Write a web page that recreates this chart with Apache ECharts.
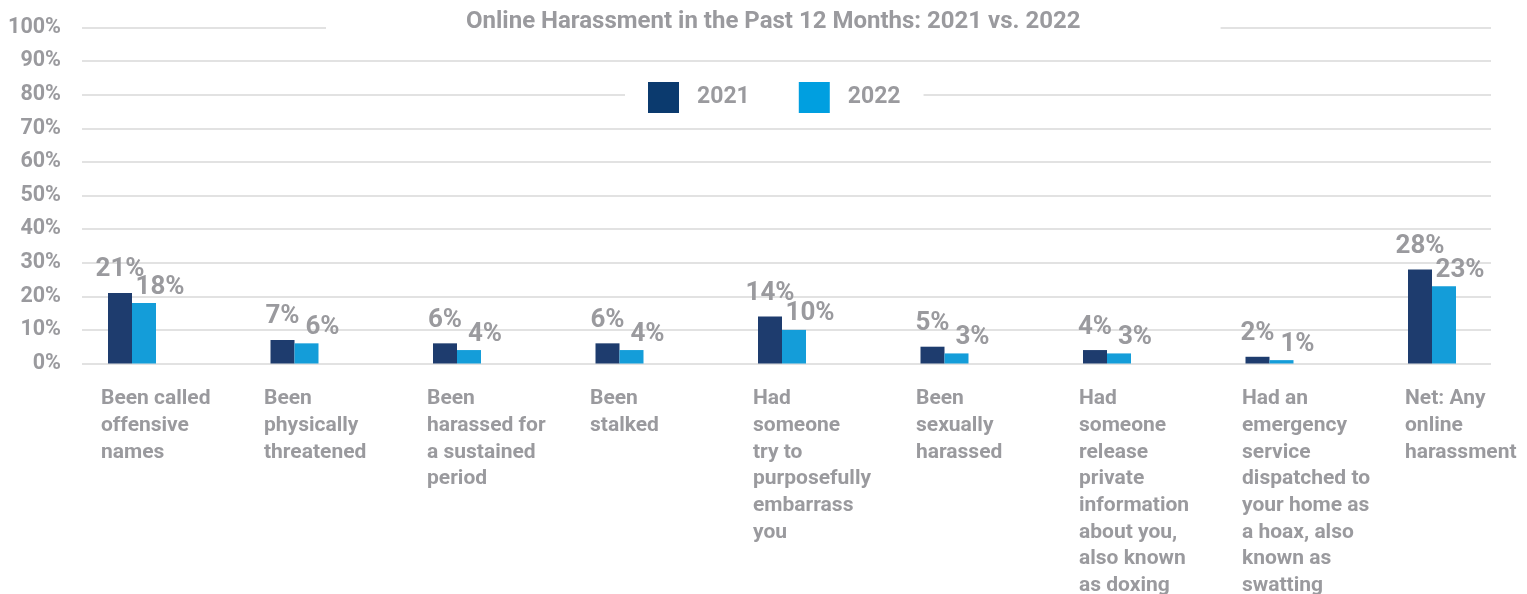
<!DOCTYPE html>
<html>
<head>
<meta charset="utf-8">
<script src="https://cdn.jsdelivr.net/npm/echarts@6/dist/echarts.min.js"></script>
<style>
html,body{margin:0;padding:0;background:#fff;}
#chart{width:1527px;height:594px;}
</style>
</head>
<body>
<div id="chart"></div>
<script>
const titleText = 'Online Harassment in the Past 12 Months: 2021 vs. 2022';
const seriesNames = ['2021', '2022'];
const categories = [
  'Been called\noffensive\nnames',
  'Been\nphysically\nthreatened',
  'Been\nharassed for\na sustained\nperiod',
  'Been\nstalked',
  'Had\nsomeone\ntry to\npurposefully\nembarrass\nyou',
  'Been\nsexually\nharassed',
  'Had\nsomeone\nrelease\nprivate\ninformation\nabout you,\nalso known\nas doxing',
  'Had an\nemergency\nservice\ndispatched to\nyour home as\na hoax, also\nknown as\nswatting',
  'Net: Any\nonline\nharassment'
];
const values2021 = [21, 7, 6, 6, 14, 5, 4, 2, 28];
const values2022 = [18, 6, 4, 4, 10, 3, 3, 1, 23];
const yMin = 0, yMax = 100, yStep = 10;

const GRAY = '#9a9a9e';
const FONT = 'Roboto';
const C2021 = '#1e3c6e';
const C2022 = '#149dd9';

const chart = echarts.init(document.getElementById('chart'), null, {renderer: 'canvas'});
const gTop = 27.5, gBottom = 230.5;
chart.setOption({
  animation: false,
  backgroundColor: '#fff',
  title: {
    text: titleText,
    left: 326,
    top: 4,
    padding: [6, 140, 6, 140],
    backgroundColor: '#fff',
    textStyle: {color: GRAY, fontFamily: FONT, fontWeight: 'bold', fontSize: 24}
  },
  legend: {
    left: 625,
    top: 78,
    padding: [4, 23, 4, 23],
    backgroundColor: '#fff',
    itemWidth: 31,
    itemHeight: 31,
    itemGap: 49,
    icon: 'rect',
    data: [
      {name: seriesNames[0], itemStyle: {color: '#0b3a6e'}},
      {name: seriesNames[1], itemStyle: {color: '#009fe0'}}
    ],
    textStyle: {color: GRAY, fontFamily: FONT, fontWeight: 'bold', fontSize: 23, padding: [0, 0, 0, 13]}
  },
  grid: [
    {left: 82, right: 36, top: gTop, bottom: gBottom, outerBoundsMode: 'none'},
    {left: 50.75, right: 13.75, top: gTop, bottom: gBottom, outerBoundsMode: 'none'},
    {left: 19.5, right: 40.5, top: gTop, bottom: gBottom, outerBoundsMode: 'none'}
  ],
  xAxis: [
    {gridIndex: 0, type: 'category', data: categories, show: false},
    {gridIndex: 1, type: 'category', data: categories, show: false},
    {gridIndex: 2, type: 'category', data: categories,
     axisLine: {show: false}, axisTick: {show: false}, splitLine: {show: false},
     axisLabel: {interval: 0, align: 'left', verticalAlign: 'top', margin: 22,
       color: GRAY, fontFamily: FONT, fontWeight: 'bold', fontSize: 21, lineHeight: 26.7}}
  ],
  yAxis: [
    {gridIndex: 0, type: 'value', min: yMin, max: yMax, interval: yStep,
     axisLine: {show: false}, axisTick: {show: false},
     splitLine: {show: true, lineStyle: {color: '#e2e2e2', width: 2}},
     axisLabel: {formatter: '{value}%', margin: 21, color: GRAY, fontFamily: FONT, fontWeight: 'bold', fontSize: 21.5}},
    {gridIndex: 1, type: 'value', min: yMin, max: yMax, show: false, splitLine: {show: false}},
    {gridIndex: 2, type: 'value', min: yMin, max: yMax, show: false, splitLine: {show: false}}
  ],
  series: [
    {name: seriesNames[0], type: 'bar', xAxisIndex: 1, yAxisIndex: 1, data: values2021,
     barWidth: 24, barGap: '0%', itemStyle: {color: C2021},
     label: {show: true, position: 'top', distance: 10, formatter: '{c}%',
       color: GRAY, fontFamily: FONT, fontWeight: 'bold', fontSize: 26}},
    {name: seriesNames[1], type: 'bar', xAxisIndex: 1, yAxisIndex: 1, data: values2022,
     barWidth: 24, barGap: '0%', itemStyle: {color: C2022},
     label: {show: true, position: 'top', distance: 3, offset: [16, 0], formatter: '{c}%',
       color: GRAY, fontFamily: FONT, fontWeight: 'bold', fontSize: 26}}
  ]
});
</script>
</body>
</html>
